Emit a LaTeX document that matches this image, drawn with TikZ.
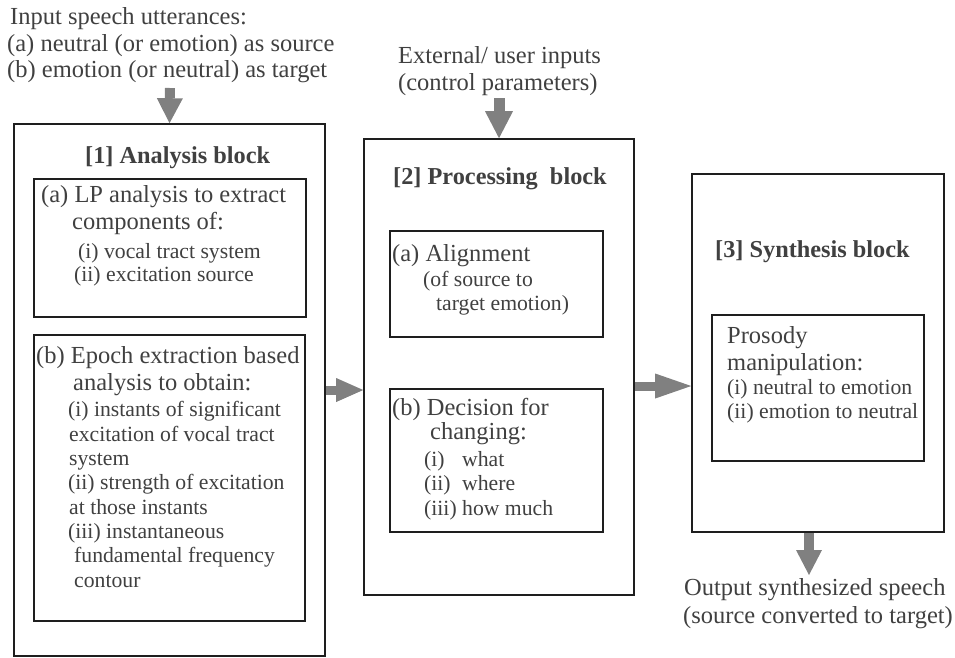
\documentclass[tikz,border=0pt]{standalone}
\usepackage{fontspec}
\setmainfont{Liberation Serif}
\usetikzlibrary{arrows.meta}
\definecolor{txt}{HTML}{404040}
\definecolor{arr}{HTML}{808080}
\definecolor{edge}{HTML}{1E1E1E}
\begin{document}
\begin{tikzpicture}[x=1pt,y=-1pt,
  outerbox/.style={draw=edge, line width=1.6pt, inner sep=0pt},
  innerbox/.style={draw=edge, line width=1.2pt, inner sep=0pt},
  maintext/.style={anchor=base west, inner sep=0pt, text=txt, font=\fontsize{24.5}{27}\selectfont},
  subtext/.style={anchor=base west, inner sep=0pt, text=txt, font=\fontsize{21.7}{24}\selectfont},
  headtext/.style={anchor=base west, inner sep=0pt, text=txt, font=\fontsize{24.3}{27}\selectfont\bfseries},
  fatarrow/.style n args={3}{draw=arr, line width=#1, -{Triangle[width=#2,length=#3,line width=0pt]}}
]
\useasboundingbox (0,0) rectangle (955,657);

% boxes
\node[outerbox, minimum width=311pt, minimum height=532pt] (box1) at (169.5,390) {};
\node[innerbox, minimum width=272pt, minimum height=138pt] (box1a) at (170,248) {};
\node[innerbox, minimum width=271pt, minimum height=286pt] (box1b) at (169.5,478) {};
\node[outerbox, minimum width=270pt, minimum height=456pt] (box2) at (499,367) {};
\node[innerbox, minimum width=213pt, minimum height=106pt] (box2a) at (496.5,284) {};
\node[innerbox, minimum width=213pt, minimum height=143pt] (box2b) at (496.5,460.5) {};
\node[outerbox, minimum width=252pt, minimum height=358pt] (box3) at (818,353) {};
\node[innerbox, minimum width=212pt, minimum height=146pt] (box3a) at (818,388) {};

% outside texts
\node[maintext] (in1) at (10,24) {Input speech utterances:};
\node[maintext] (in2) at (7,51) {(a) neutral (or emotion) as source};
\node[maintext] (in3) at (7,77) {(b) emotion (or neutral) as target};
\node[maintext] (ext1) at (398,63) {External/ user inputs};
\node[maintext] (ext2) at (398,90) {(control parameters)};
\node[maintext] (out1) at (684,595) {Output synthesized speech};
\node[maintext] (out2) at (683,623) {(source converted to target)};

% headings
\node[headtext] (h1) at (85,163) {[1] Analysis block};
\node[headtext] (h2) at (393,184) {[2] Processing\ \ block};
\node[headtext] (h3) at (715,257) {[3] Synthesis block};

% box 1a
\node[maintext] (a1) at (41,202) {(a) LP analysis to extract};
\node[maintext] (a2) at (72,229) {components of:};
\node[subtext] (a3) at (78,258) {(i) vocal tract system};
\node[subtext] (a4) at (74,281) {(ii) excitation source};

% box 1b
\node[maintext] (b1) at (36,363) {(b) Epoch extraction based};
\node[maintext] (b2) at (73,390) {analysis to obtain:};
\node[subtext] (b3) at (68,416) {(i) instants of significant};
\node[subtext] (b4) at (69,441) {excitation of vocal tract};
\node[subtext] (b5) at (69,465) {system};
\node[subtext] (b6) at (68,489) {(ii) strength of excitation};
\node[subtext] (b7) at (69,514) {at those instants};
\node[subtext] (b8) at (68,538) {(iii) instantaneous};
\node[subtext] (b9) at (74,562) {fundamental frequency};
\node[subtext] (b10) at (74,587) {contour};

% box 2a
\node[maintext] (c1) at (392,261) {(a) Alignment};
\node[subtext] (c2) at (423,286) {(of source to};
\node[subtext] (c3) at (436,310) {target emotion)};

% box 2b
\node[maintext] (d1) at (392,415) {(b) Decision for};
\node[maintext] (d2) at (430,439) {changing:};
\node[subtext] (d3) at (424,466) {\makebox[38pt][l]{(i)}what};
\node[subtext] (d4) at (424,490) {\makebox[38pt][l]{(ii)}where};
\node[subtext] (d5) at (424,515) {\makebox[38pt][l]{(iii)}how much};

% box 3a
\node[maintext] (e1) at (727,343) {Prosody};
\node[maintext] (e2) at (727,370) {manipulation:};
\node[subtext] (e3) at (727,394) {(i) neutral to emotion};
\node[subtext] (e4) at (727,418) {(ii) emotion to neutral};

% arrows
\coordinate (inTail) at (170,88);
\coordinate (extTail) at (499,98);
\coordinate (outTip) at (809,575);
\draw[fatarrow={10pt}{26pt}{25pt}] (inTail) -- (box1.north);
\draw[fatarrow={11pt}{28pt}{27pt}] (extTail) -- (box2.north);
\draw[fatarrow={9pt}{24pt}{27pt}] (box1.east) -- (box1.east -| box2.west);
\draw[fatarrow={9pt}{25pt}{36pt}] ([yshift=-19pt]box2.east) -- ([yshift=-19pt]box2.east -| box3.west);
\draw[fatarrow={10pt}{26pt}{25pt}] (box3.south -| outTip) -- (outTip);
\end{tikzpicture}
\end{document}
